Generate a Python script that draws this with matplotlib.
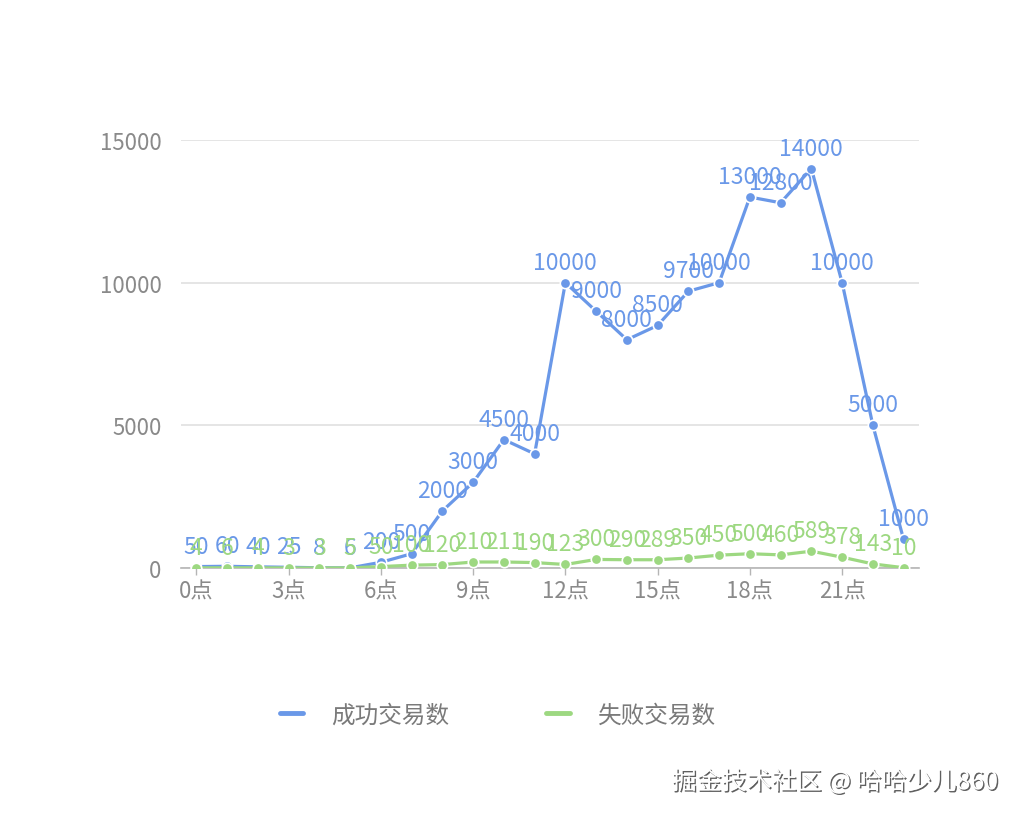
import matplotlib
matplotlib.use("Agg")
import matplotlib.pyplot as plt
import matplotlib.patheffects as pe

plt.rcParams['font.family'] = ['Noto Sans CJK SC', 'DejaVu Sans']

hours = [f"{h}点" for h in range(24)]
success = [50, 60, 40, 25, 8, 6, 200, 500, 2000, 3000, 4500, 4000,
           10000, 9000, 8000, 8500, 9700, 10000, 13000, 12800, 14000, 10000, 5000, 1000]
failed = [4, 6, 4, 3, 3, 5, 50, 100, 120, 210, 211, 190,
          123, 300, 290, 289, 350, 450, 500, 460, 589, 378, 143, 10]
series_names = ["成功交易数", "失败交易数"]
colors = ["#6a98e8", "#9dd881"]
yticks = [0, 5000, 10000, 15000]

W, H = 1020, 820
fig = plt.figure(figsize=(W / 100, H / 100), dpi=100)
ax = fig.add_axes([181 / W, 1 - 569 / H, (919 - 181) / W, (569 - 141) / H])

x = list(range(len(hours)))
for vals, name, c, z in [(success, series_names[0], colors[0], 3), (failed, series_names[1], colors[1], 4)]:
    ax.plot(x, vals, color=c, lw=2.3, marker='o', ms=7.5, mfc=c, mec='white', mew=1.2,
            label=name, zorder=z, solid_capstyle='round')
    for xi, v in zip(x, vals):
        ax.annotate(str(v), (xi, v), xytext=(0, 6.5), textcoords='offset points',
                    ha='center', va='bottom', color=c, fontsize=16.5, zorder=z + 2,
                    annotation_clip=False)

ax.set_xlim(-0.5, len(hours) - 0.5)
ax.set_ylim(0, 15000)
ax.set_yticks(yticks)
ax.set_yticklabels([str(t) for t in yticks])
ax.set_xticks(x[::3])
ax.set_xticklabels(hours[::3])

for s in ['top', 'right', 'left']:
    ax.spines[s].set_visible(False)
ax.spines['bottom'].set_color('#b5b5b5')
ax.spines['bottom'].set_linewidth(1.2)
ax.grid(axis='y', color='#e0e0e0', lw=1.2)
ax.set_axisbelow(True)
ax.tick_params(axis='y', length=0, pad=14, labelsize=16, labelcolor='#8a8a8a')
ax.tick_params(axis='x', length=5, width=1, color='#b5b5b5', pad=3, labelsize=16, labelcolor='#8a8a8a')

leg = fig.legend(loc='center', bbox_to_anchor=(498 / W, 1 - 716 / H), ncol=2, frameon=False,
                 handlelength=1.0, handletextpad=1.2, columnspacing=4.1, fontsize=17,
                 labelcolor='#7a7a7a')
for h in leg.legend_handles:
    h.set_marker('')
    h.set_linewidth(3.5)

fig.text(998 / W, 1 - 783 / H, "掘金技术社区 @ 哈哈少儿860", ha='right', va='center',
         fontsize=18, color='white',
         path_effects=[pe.withSimplePatchShadow(offset=(1.0, -1.0), shadow_rgbFace='#444444', alpha=0.85)])

fig.savefig("out.png", dpi=100, facecolor='white')
